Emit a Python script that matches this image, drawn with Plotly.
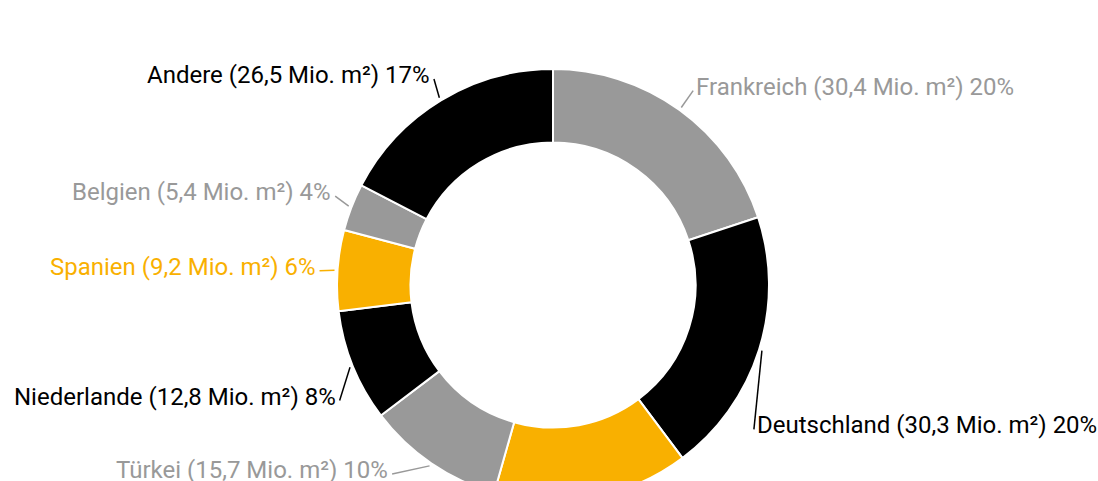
import math
import plotly.graph_objects as go

# ---- data ----
countries = ["Frankreich", "Deutschland", "Italien", "Türkei", "Niederlande", "Spanien", "Belgien", "Andere"]
area_mio_m2 = [30.4, 30.3, 22.3, 15.7, 12.8, 9.2, 5.4, 26.5]
slice_colors = ["#999999", "#000000", "#F9B000", "#999999", "#000000", "#F9B000", "#999999", "#000000"]
# labels visible in the reference (the bottom one lies outside the picture)
label_visible = [True, True, False, True, True, True, True, True]

# ---- layout constants ----
W, H = 1098, 520
CX, CY, R = 553, 285, 216
HOLE = 0.66
LABEL_R = 241
# per-label pixel nudges (layout only)
LABEL_NUDGE = [(0, -3), (-28, 68), (0, 0), (-27, -14), (8, 21), (5, -2), (5, -6), (4, -4)]

total = sum(area_mio_m2)
pcts = [round(v / total * 100) for v in area_mio_m2]
texts = [f"{c} ({f'{v:.1f}'.replace('.', ',')} Mio. m²) {p}%" for c, v, p in zip(countries, area_mio_m2, pcts)]

fig = go.Figure(go.Pie(
    labels=countries,
    values=area_mio_m2,
    sort=False,
    direction="clockwise",
    rotation=0,
    hole=HOLE,
    marker=dict(colors=slice_colors, line=dict(color="#ffffff", width=2)),
    textinfo="none",
    hoverinfo="label+value+percent",
    domain=dict(x=[(CX - R) / W, (CX + R) / W], y=[(H - (CY + R)) / H, (H - (CY - R)) / H]),
    showlegend=False,
))

def px2paper(x, y):
    return x / W, 1 - y / H

annotations = []
shapes = []
cum = 0.0
for i, v in enumerate(area_mio_m2):
    mid = (cum + v / 2) / total * 2 * math.pi
    cum += v
    if not label_visible[i]:
        continue
    right = mid < math.pi
    lx = CX + LABEL_R * math.sin(mid) + LABEL_NUDGE[i][0]
    ly = CY - LABEL_R * math.cos(mid) + LABEL_NUDGE[i][1]
    sx = CX + (R + 3) * math.sin(mid)
    sy = CY - (R + 3) * math.cos(mid)
    col = slice_colors[i]
    ax, ay = px2paper(lx, ly)
    annotations.append(dict(
        x=ax, y=ay, xref="paper", yref="paper", text=texts[i], showarrow=False,
        xanchor="left" if right else "right", yanchor="middle",
        font=dict(family="Roboto, sans-serif", size=24, color=col),
    ))
    ex = lx - 1 if right else lx + 2
    ey = ly + 4
    p0 = px2paper(sx, sy)
    p1 = px2paper(ex, ey)
    shapes.append(dict(type="line", xref="paper", yref="paper", x0=p0[0], y0=p0[1], x1=p1[0], y1=p1[1],
                       line=dict(color=col, width=1.5)))

fig.update_layout(
    width=W, height=H,
    margin=dict(l=0, r=0, t=0, b=0),
    paper_bgcolor="#ffffff",
    plot_bgcolor="#ffffff",
    annotations=annotations,
    shapes=shapes,
)

fig.write_html(
    "out.html",
    config={"displayModeBar": False},
    post_script="document.body.style.margin='0';document.body.style.overflow='hidden';document.documentElement.style.overflow='hidden';",
)
